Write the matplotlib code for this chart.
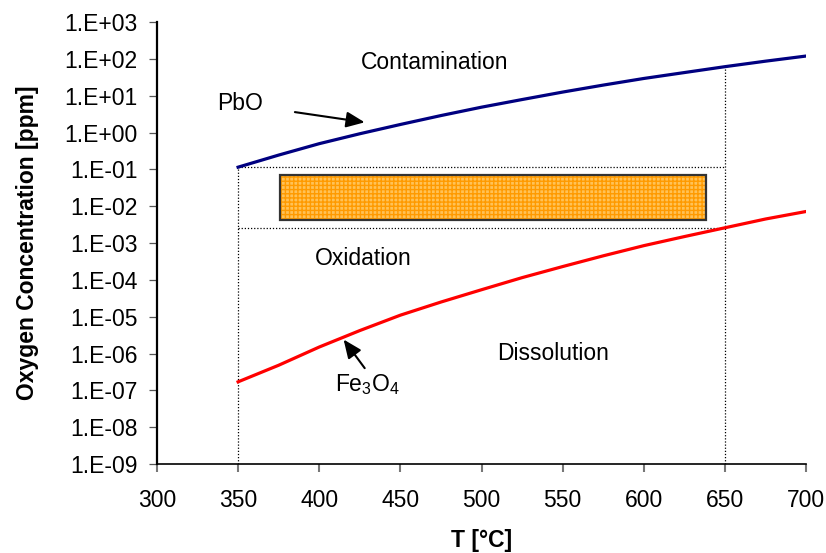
import numpy as np
import matplotlib
matplotlib.use('Agg')
import matplotlib.pyplot as plt
from matplotlib.patches import Rectangle
from matplotlib.ticker import FixedLocator, FuncFormatter, NullLocator

plt.rcParams['font.family'] = ['Liberation Sans', 'DejaVu Sans']
plt.rcParams['mathtext.fontset'] = 'custom'
plt.rcParams['mathtext.rm'] = 'Liberation Sans'
plt.rcParams['mathtext.it'] = 'Liberation Sans:italic'

# temperature [°C] and oxygen concentration [ppm]
temp = [350, 375, 400, 425, 450, 475, 500, 525, 550, 575, 600, 625, 650, 675, 700]
pbo = [0.115, 0.245, 0.50, 0.93, 1.66, 2.9, 4.9, 7.9, 12.6, 19.5, 29.5, 42.7, 61.7, 87, 120]
fe3o4 = [1.7e-7, 4.8e-7, 1.5e-6, 4.2e-6, 1.1e-5, 2.5e-5, 5.4e-5, 1.15e-4, 2.3e-4,
         4.5e-4, 8.5e-4, 1.5e-3, 2.6e-3, 4.5e-3, 7.2e-3]

# operating window (dotted) and recommended band (orange box)
t_window = [350, 650]
c_window = [0.115, 2.6e-3]
t_band = [376, 638]
c_band = [4.2e-3, 0.069]

decades = list(range(-9, 4))

fig = plt.figure(figsize=(8.26, 5.53), dpi=100)
ax = fig.add_axes([0.190, 0.161, 0.786, 0.799])

ax.plot(temp, pbo, color='#000080', lw=2.3, zorder=3)
ax.plot(temp, fe3o4, color='#FF0000', lw=2.3, zorder=3)

dot = dict(color='black', lw=0.9, ls=(0, (1, 1.5)), zorder=2)
ax.plot([t_window[0], t_window[1]], [c_window[0], c_window[0]], **dot)
ax.plot([t_window[0], t_window[1]], [c_window[1], c_window[1]], **dot)
ax.plot([t_window[0], t_window[0]], [1e-9, c_window[0]], **dot)
ax.plot([t_window[1], t_window[1]], [1e-9, pbo[temp.index(650)]], **dot)

plt.rcParams['hatch.linewidth'] = 1.0
ax.add_patch(Rectangle((t_band[0], c_band[0]), t_band[1] - t_band[0], c_band[1] - c_band[0],
                       facecolor='#FFC257', edgecolor='#FF9A00', hatch='++++', lw=0, zorder=2))
ax.add_patch(Rectangle((t_band[0], c_band[0]), t_band[1] - t_band[0], c_band[1] - c_band[0],
                       facecolor='none', edgecolor='#333333', lw=1.6, zorder=2))

fs = 16.5
ax.text(471, 80, 'Contamination', fontsize=fs, ha='center', va='center')
ax.text(427, 3.9e-4, 'Oxidation', fontsize=fs, ha='center', va='center')
ax.text(544, 1.0e-6, 'Dissolution', fontsize=fs, ha='center', va='center')
ax.text(351, 6.3, 'PbO', fontsize=fs, ha='center', va='center')
ax.text(430, 1.4e-7, 'Fe$_3$O$_4$', fontsize=fs, ha='center', va='center')

arrow = dict(arrowstyle='-|>,head_length=0.7,head_width=0.3', color='black', lw=1.5,
             mutation_scale=16, shrinkA=0, shrinkB=0)
ax.annotate('', xy=(428, 1.9), xytext=(385, 3.6), arrowprops=arrow)
ax.annotate('', xy=(415, 2.4e-6), xytext=(428, 4.0e-7), arrowprops=arrow)

ax.set_yscale('log')
ax.set_xlim(300, 700)
ax.set_ylim(1e-9, 1e3)
ax.yaxis.set_major_locator(FixedLocator([10.0 ** d for d in decades]))
ax.yaxis.set_minor_locator(NullLocator())
ax.yaxis.set_major_formatter(FuncFormatter(lambda v, p: '1.E%+03d' % int(round(np.log10(v)))))
ax.set_xticks(range(300, 701, 50))

for s in ['top', 'right']:
    ax.spines[s].set_visible(False)
ax.spines['left'].set_linewidth(1.6)
ax.spines['bottom'].set_linewidth(1.2)
ax.tick_params(axis='y', length=6, width=0.9, color='#555555', labelsize=fs, pad=8)
ax.tick_params(axis='x', length=6, width=1.5, color='#777777', labelsize=fs, pad=12)

ax.set_xlabel('T [°C]', fontsize=fs, fontweight='bold', labelpad=12)
ax.set_ylabel('Oxygen Concentration [ppm]', fontsize=fs, fontweight='bold', labelpad=18)

fig.savefig('out.png', dpi=100)
